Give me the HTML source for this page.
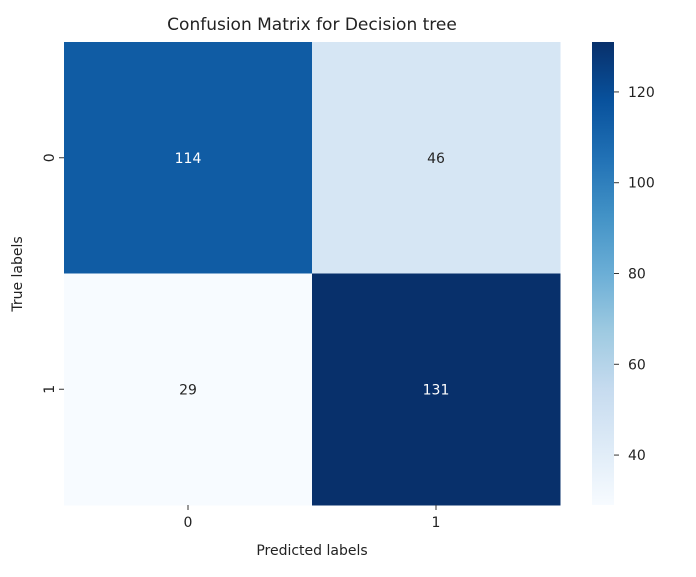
<!DOCTYPE html>
<html><head><meta charset="utf-8"><style>
body{margin:0;background:#fff;font-family:"Liberation Sans","DejaVu Sans",sans-serif;}
svg text{font-family:"DejaVu Sans","Liberation Sans",sans-serif;}
</style></head><body>
<svg id="c" width="696" height="572" xmlns="http://www.w3.org/2000/svg">
<defs><linearGradient id="g" x1="0" y1="1" x2="0" y2="0">
<stop offset="0" stop-color="#f7fbff"/><stop offset="0.125" stop-color="#deebf7"/><stop offset="0.25" stop-color="#c6dbef"/><stop offset="0.375" stop-color="#9ecae1"/><stop offset="0.5" stop-color="#6baed6"/><stop offset="0.625" stop-color="#4292c6"/><stop offset="0.75" stop-color="#2171b5"/><stop offset="0.875" stop-color="#08519c"/><stop offset="1" stop-color="#08306b"/>
</linearGradient></defs>
<text x="312" y="30" font-size="17" text-anchor="middle" fill="#222">Confusion Matrix for Decision tree</text>
<g id="cells"></g>
<rect x="592" y="42" width="22" height="463" fill="url(#g)"/>
<g id="cb"></g>
<text x="312" y="555" font-size="14" text-anchor="middle" fill="#222">Predicted labels</text>
<text transform="translate(22,274) rotate(-90)" font-size="14" text-anchor="middle" fill="#222">True labels</text>
</svg>
<script>
const labels=["0","1"];
const values=[[114,46],[29,131]];
const cbTicks=[40,60,80,100,120];
const vmin=29,vmax=131;
const L=64,T=42,W=496,H=463;
const stops=[[247,251,255],[222,235,247],[198,219,239],[158,202,225],[107,174,214],[66,146,198],[33,113,181],[8,81,156],[8,48,107]];
function col(v){let t=(v-vmin)/(vmax-vmin)*8;let i=Math.min(7,Math.floor(t)),f=t-i;const a=stops[i],b=stops[i+1];return `rgb(${a.map((x,k)=>Math.round(x+(b[k]-x)*f)).join(',')})`;}
const NS="http://www.w3.org/2000/svg";
const svg=document.getElementById('c'),g=document.getElementById('cells'),cb=document.getElementById('cb');
function el(t,a,p){const e=document.createElementNS(NS,t);for(const k in a)e.setAttribute(k,a[k]);p.appendChild(e);return e;}
const n=labels.length,cw=W/n,ch=H/n;
values.forEach((row,r)=>row.forEach((v,c)=>{
 const rc=el('rect',{x:L+c*cw,y:T+r*ch,width:cw+0.5,height:ch+0.5,fill:col(v)},g);
 
 
 const t=el('text',{x:L+(c+.5)*cw,y:T+(r+.5)*ch+5,'font-size':14,'text-anchor':'middle',fill:(v-vmin)/(vmax-vmin)>0.5?'#fff':'#262626'},g);
 t.textContent=v;
 
 
}));
labels.forEach((lb,i)=>{
 const x=L+(i+.5)*cw;
 el('line',{x1:x,x2:x,y1:T+H,y2:T+H+5,stroke:'#333'},g);
 const t=el('text',{x:x,y:T+H+22,'font-size':14,'text-anchor':'middle',fill:'#222'},g);t.textContent=lb;
 
 
 const y=T+(i+.5)*ch;
 el('line',{x1:L-5,x2:L,y1:y,y2:y,stroke:'#333'},g);
 const u=el('text',{transform:`translate(${L-10},${y}) rotate(-90)`,'font-size':14,'text-anchor':'middle',fill:'#222'},g);u.textContent=lb;
 
 
});
cbTicks.forEach(v=>{
 const y=T+(vmax-v)/(vmax-vmin)*H;
 el('line',{x1:614,x2:619,y1:y,y2:y,stroke:'#333'},cb);
 const t=el('text',{x:628,y:y+5,'font-size':14,fill:'#222'},cb);t.textContent=v;
 
 
});
</script>
</body></html>
